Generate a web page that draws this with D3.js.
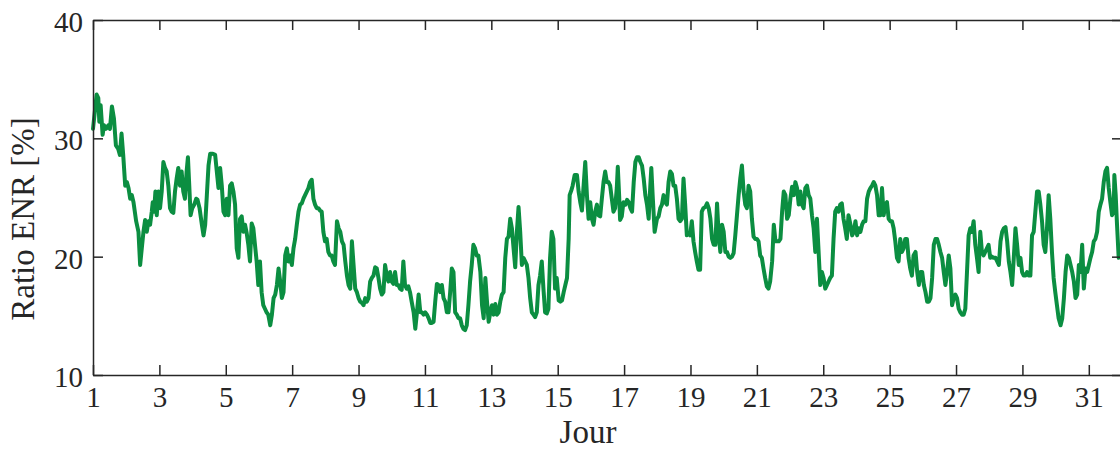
<!DOCTYPE html>
<html>
<head>
<meta charset="utf-8">
<script src="https://cdn.jsdelivr.net/npm/d3@7"></script>
<style>
  html, body { margin: 0; padding: 0; background: #fff; }
  svg { display: block; }
</style>
</head>
<body>
<svg id="chart" width="1120" height="450"></svg>
<script>
// ---- data (day of month, renewable ratio in %) ----
const ratioENR = [
 [1.00,30.8],[1.11,33.7],[1.16,33.4],[1.19,31.4],[1.23,32.8],[1.29,30.3],[1.33,31.1],[1.39,30.8],[1.46,31.1],[1.51,30.8],[1.57,32.7],[1.63,31.7],[1.69,29.4],[1.76,29.1],[1.81,28.6],[1.86,30.4],[1.91,28.6],[1.97,26.0],[2.02,26.3],[2.07,25.8],[2.12,24.9],[2.17,25.2],[2.22,24.6],[2.30,23.0],[2.37,22.1],[2.42,19.3],[2.47,20.7],[2.52,22.1],[2.57,23.1],[2.62,22.1],[2.67,23.0],[2.72,22.7],[2.77,23.8],[2.80,24.6],[2.84,23.8],[2.88,25.5],[2.92,23.5],[2.97,25.5],[3.02,24.1],[3.07,25.5],[3.12,28.0],[3.17,27.5],[3.22,27.2],[3.27,26.0],[3.32,24.1],[3.37,23.8],[3.42,23.7],[3.47,25.5],[3.52,26.6],[3.57,27.5],[3.62,26.0],[3.67,27.2],[3.72,25.5],[3.77,24.9],[3.82,27.2],[3.86,28.4],[3.90,26.0],[3.94,23.5],[3.99,24.1],[4.05,24.4],[4.11,24.9],[4.15,24.8],[4.21,24.1],[4.28,22.7],[4.33,21.8],[4.38,22.7],[4.43,25.2],[4.48,27.7],[4.53,28.7],[4.61,28.7],[4.68,28.6],[4.73,27.2],[4.78,25.8],[4.83,27.5],[4.88,26.0],[4.93,23.8],[4.98,23.5],[5.03,24.9],[5.08,23.5],[5.13,26.0],[5.18,26.2],[5.23,25.5],[5.28,24.4],[5.33,20.7],[5.38,19.9],
 [5.43,23.2],[5.48,23.4],[5.53,22.1],[5.58,22.7],[5.63,22.0],[5.68,21.0],[5.73,19.6],[5.78,22.8],[5.83,22.4],[5.88,21.0],[5.93,19.6],[5.98,17.6],[6.03,19.6],[6.08,17.0],[6.13,15.9],[6.18,15.6],[6.23,15.3],[6.28,15.1],[6.34,14.2],[6.39,15.1],[6.44,16.5],[6.49,16.8],[6.54,17.6],[6.59,19.0],[6.64,17.9],[6.69,16.5],[6.74,17.0],[6.79,20.1],[6.84,20.7],[6.89,19.6],[6.94,20.1],[6.99,19.3],[7.04,20.7],[7.09,21.5],[7.14,22.7],[7.19,23.8],[7.24,24.4],[7.29,24.5],[7.34,24.9],[7.39,25.2],[7.44,25.5],[7.49,25.8],[7.54,26.3],[7.59,26.5],[7.64,24.9],[7.69,24.4],[7.74,24.1],[7.79,24.1],[7.84,23.9],[7.89,23.8],[7.94,22.1],[7.99,21.3],[8.04,21.5],[8.09,20.4],[8.14,20.1],[8.19,20.1],[8.24,19.6],[8.29,19.3],[8.35,23.0],[8.40,22.4],[8.45,22.1],[8.50,21.3],[8.55,21.0],[8.60,19.6],[8.65,18.4],[8.70,17.6],[8.75,17.3],[8.80,21.3],[8.85,19.3],[8.90,17.3],[8.95,17.0],[9.00,16.5],[9.05,16.2],[9.10,16.1],[9.15,15.9],[9.20,16.5],[9.25,16.2],[9.30,16.5],[9.35,17.9],[9.40,18.2],[9.45,18.4],[9.50,19.1],[9.55,19.0],[9.60,18.2],[9.65,17.3],[9.70,16.8],
 [9.75,17.0],[9.80,19.3],[9.85,18.4],[9.90,17.9],[9.95,18.7],[10.00,17.9],[10.05,17.7],[10.10,18.7],[10.15,17.6],[10.20,17.6],[10.25,17.3],[10.30,17.2],[10.35,19.6],[10.40,17.6],[10.45,17.3],[10.50,17.5],[10.55,17.0],[10.60,16.2],[10.66,15.3],[10.71,13.9],[10.76,15.3],[10.81,16.8],[10.86,15.3],[10.91,15.3],[10.96,15.1],[11.01,15.3],[11.06,15.1],[11.11,14.8],[11.16,14.4],[11.21,14.4],[11.26,14.5],[11.31,16.2],[11.36,17.7],[11.41,17.6],[11.46,17.0],[11.51,17.6],[11.56,16.5],[11.61,16.2],[11.66,15.3],[11.71,15.3],[11.76,17.0],[11.81,19.0],[11.86,18.7],[11.91,15.3],[11.96,15.1],[12.01,14.8],[12.06,14.8],[12.11,14.2],[12.16,13.9],[12.21,13.8],[12.26,14.2],[12.31,15.9],[12.36,17.9],[12.41,19.3],[12.46,21.0],[12.51,20.7],[12.56,20.1],[12.61,20.1],[12.67,18.7],[12.72,15.9],[12.77,14.8],[12.82,18.2],[12.87,16.2],[12.92,14.5],[12.97,15.3],[13.02,15.9],[13.07,15.1],[13.12,16.0],[13.17,15.1],[13.22,15.3],[13.27,16.2],[13.32,16.8],[13.37,17.0],[13.42,19.9],[13.47,21.5],[13.52,21.7],[13.57,23.2],[13.62,22.4],[13.67,20.7],[13.72,19.1],[13.77,22.1],[13.82,24.2],[13.87,22.1],[13.92,19.3],[13.97,19.9],[14.02,19.6],
 [14.07,19.3],[14.12,18.2],[14.17,16.5],[14.22,15.3],[14.27,15.1],[14.32,14.9],[14.37,15.3],[14.42,17.6],[14.47,18.4],[14.52,19.6],[14.57,17.3],[14.62,15.3],[14.67,15.2],[14.72,15.6],[14.77,19.9],[14.82,22.1],[14.87,21.5],[14.92,17.3],[14.97,18.2],[15.03,16.3],[15.08,16.2],[15.13,16.3],[15.18,17.0],[15.23,17.6],[15.28,18.2],[15.33,21.5],[15.36,25.2],[15.41,25.6],[15.45,26.0],[15.51,26.9],[15.58,26.9],[15.63,25.5],[15.68,24.6],[15.73,23.9],[15.78,26.0],[15.83,28.0],[15.88,25.2],[15.93,23.2],[15.98,24.6],[16.03,23.2],[16.08,22.7],[16.13,23.8],[16.18,24.4],[16.23,23.5],[16.28,23.4],[16.33,24.9],[16.38,26.3],[16.43,27.2],[16.48,26.3],[16.53,26.3],[16.58,26.0],[16.63,24.9],[16.68,23.8],[16.73,24.1],[16.78,25.8],[16.81,27.6],[16.85,25.2],[16.88,23.1],[16.93,23.4],[16.98,24.6],[17.04,24.4],[17.09,24.8],[17.14,24.6],[17.19,24.1],[17.24,23.8],[17.29,26.3],[17.34,28.0],[17.39,28.4],[17.44,28.4],[17.49,28.0],[17.54,27.7],[17.59,26.6],[17.64,25.2],[17.69,24.4],[17.74,23.2],[17.79,26.0],[17.82,27.5],[17.86,25.2],[17.92,22.1],[17.99,23.2],[18.04,23.4],[18.09,24.1],[18.14,24.4],[18.19,25.2],[18.24,24.6],[18.29,24.4],[18.34,26.3],[18.39,27.2],[18.44,27.0],[18.49,26.0],
 [18.54,26.0],[18.59,24.9],[18.64,23.2],[18.69,23.0],[18.74,23.2],[18.79,26.6],[18.84,24.4],[18.89,21.8],[18.94,22.0],[18.99,21.8],[19.04,23.0],[19.09,21.3],[19.14,20.4],[19.19,19.6],[19.24,18.9],[19.29,18.9],[19.34,23.8],[19.39,24.1],[19.45,24.2],[19.50,24.5],[19.55,24.1],[19.60,23.2],[19.65,21.5],[19.70,21.0],[19.75,21.0],[19.80,24.5],[19.85,21.8],[19.90,20.4],[19.95,22.7],[20.00,22.1],[20.05,20.4],[20.10,20.4],[20.15,20.0],[20.20,19.9],[20.25,20.0],[20.30,20.3],[20.35,21.8],[20.40,23.5],[20.45,25.2],[20.50,26.6],[20.55,27.7],[20.60,25.5],[20.65,24.4],[20.70,24.1],[20.75,26.0],[20.80,25.5],[20.85,23.2],[20.90,21.7],[20.95,21.5],[21.00,21.5],[21.05,21.3],[21.10,20.1],[21.15,19.9],[21.20,19.0],[21.25,18.2],[21.30,17.5],[21.35,17.3],[21.40,17.9],[21.46,19.6],[21.51,22.7],[21.56,21.3],[21.61,21.3],[21.66,21.3],[21.71,21.5],[21.76,23.8],[21.81,25.5],[21.86,25.2],[21.91,23.2],[21.96,23.5],[22.01,24.9],[22.06,25.9],[22.11,25.2],[22.16,26.3],[22.21,25.8],[22.26,24.4],[22.31,25.5],[22.36,24.4],[22.41,24.1],[22.46,25.8],[22.51,26.0],[22.56,25.2],[22.61,24.9],[22.66,23.5],[22.71,22.4],[22.76,20.4],[22.81,23.2],
 [22.86,20.4],[22.91,17.6],[22.96,18.7],[23.01,18.2],[23.06,17.3],[23.11,17.6],[23.16,17.9],[23.21,18.2],[23.26,18.4],[23.31,21.5],[23.36,23.8],[23.41,24.1],[23.46,23.8],[23.51,24.4],[23.56,24.5],[23.61,23.2],[23.66,22.4],[23.71,21.5],[23.76,23.5],[23.82,22.7],[23.87,21.8],[23.92,22.1],[23.97,23.0],[24.02,21.8],[24.07,22.4],[24.12,22.1],[24.17,22.7],[24.22,23.0],[24.27,23.0],[24.32,24.9],[24.37,25.5],[24.42,25.8],[24.47,26.0],[24.52,26.3],[24.57,26.0],[24.62,25.2],[24.67,23.5],[24.72,23.5],[24.77,25.8],[24.82,23.5],[24.87,24.4],[24.92,24.6],[24.97,23.2],[25.02,23.0],[25.07,23.0],[25.12,22.4],[25.17,21.3],[25.22,19.9],[25.27,19.6],[25.32,21.5],[25.37,20.4],[25.42,20.7],[25.47,21.5],[25.52,21.5],[25.57,19.9],[25.62,19.0],[25.67,18.4],[25.72,20.1],[25.78,20.4],[25.83,18.7],[25.88,17.6],[25.93,18.7],[25.98,18.7],[26.03,17.6],[26.08,17.0],[26.13,16.2],[26.18,16.2],[26.23,16.5],[26.28,18.2],[26.33,21.0],[26.38,21.5],[26.43,21.5],[26.48,21.0],[26.53,20.4],[26.58,19.9],[26.63,18.7],[26.68,17.6],[26.73,18.7],[26.78,20.1],[26.83,19.0],[26.88,15.9],[26.93,16.5],[26.98,16.8],[27.03,16.5],[27.08,15.6],[27.13,15.3],[27.18,15.1],
 [27.23,15.1],[27.28,15.6],[27.33,18.7],[27.38,21.8],[27.43,22.4],[27.48,22.1],[27.53,23.0],[27.58,21.0],[27.63,19.9],[27.68,18.7],[27.73,22.1],[27.78,20.4],[27.83,20.1],[27.88,20.4],[27.93,20.7],[27.98,21.0],[28.03,19.9],[28.08,20.0],[28.13,19.9],[28.19,19.9],[28.24,19.6],[28.29,19.3],[28.34,21.3],[28.39,22.1],[28.44,22.4],[28.49,22.5],[28.54,21.3],[28.59,19.6],[28.64,18.7],[28.69,17.6],[28.74,19.9],[28.79,22.4],[28.84,21.0],[28.89,19.3],[28.94,19.9],[28.99,18.7],[29.04,18.4],[29.09,18.4],[29.14,18.7],[29.19,18.4],[29.24,18.4],[29.29,21.8],[29.34,22.1],[29.39,23.8],[29.44,25.5],[29.49,25.5],[29.54,24.4],[29.59,23.0],[29.64,21.0],[29.69,20.4],[29.74,22.4],[29.79,25.2],[29.84,23.2],[29.89,20.4],[29.94,18.2],[29.99,17.0],[30.04,15.9],[30.09,14.8],[30.15,14.2],[30.20,14.8],[30.25,16.5],[30.30,18.7],[30.35,20.1],[30.40,19.9],[30.45,19.3],[30.50,18.7],[30.55,17.9],[30.60,16.5],[30.65,16.8],[30.70,19.3],[30.75,18.7],[30.80,21.0],[30.85,17.3],[30.90,19.0],[30.95,18.7],[31.00,19.3],[31.05,19.9],[31.10,20.4],[31.15,21.3],[31.20,21.5],[31.25,22.1],[31.30,23.8],[31.35,24.4],[31.40,24.9],[31.45,26.3],[31.50,27.2],[31.55,27.5],[31.60,25.8],[31.65,24.6],[31.70,23.5],[31.75,23.8],[31.77,26.9],[31.81,25.2],[31.85,22.7],[31.90,19.9],[31.95,20.1]
];
const xTickDays = [1,3,5,7,9,11,13,15,17,19,21,23,25,27,29,31];
const yTickValues = [10,20,30,40];
const xDomain = [1, 32];
const yDomain = [10, 40];
const xLabel = "Jour";
const yLabel = "Ratio ENR [%]";

// ---- layout ----
const svg = d3.select("#chart");
const mLeft = 93, mRight = 1122, mTop = 20, mBottom = 375;
const axisColor = "#262626";
const lineColor = "#0b8e41";
const tickFont = "'Liberation Serif', 'Times New Roman', serif";

const x = d3.scaleLinear().domain(xDomain).range([mLeft, mRight]);
const y = d3.scaleLinear().domain(yDomain).range([mBottom, mTop]);

// data line
svg.append("path")
  .datum(ratioENR)
  .attr("fill", "none")
  .attr("stroke", lineColor)
  .attr("stroke-width", 4)
  .attr("stroke-linejoin", "round")
  .attr("stroke-linecap", "round")
  .attr("d", d3.line().x(d => x(d[0])).y(d => y(d[1])));

// axes (box with inward ticks)
const tickLen = 10;
function styleAxis(g) {
  g.selectAll("path.domain").attr("stroke", axisColor).attr("stroke-width", 1.5);
  g.selectAll(".tick line").attr("stroke", axisColor).attr("stroke-width", 1.5);
}
const xBottom = svg.append("g").attr("transform", `translate(0,${mBottom})`)
  .call(d3.axisBottom(x).tickValues(xTickDays).tickSizeInner(-tickLen).tickSizeOuter(0).tickPadding(11));
const xTopAxis = svg.append("g").attr("transform", `translate(0,${mTop})`)
  .call(d3.axisTop(x).tickValues(xTickDays).tickSizeInner(-tickLen).tickSizeOuter(0).tickFormat(""));
const yLeft = svg.append("g").attr("transform", `translate(${mLeft},0)`)
  .call(d3.axisLeft(y).tickValues(yTickValues).tickSizeInner(-tickLen).tickSizeOuter(0).tickPadding(10));
const yRightAxis = svg.append("g").attr("transform", `translate(${mRight},0)`)
  .call(d3.axisRight(y).tickValues(yTickValues).tickSizeInner(-tickLen).tickSizeOuter(0).tickFormat(""));
[xBottom, xTopAxis, yLeft, yRightAxis].forEach(styleAxis);

xBottom.selectAll(".tick text")
  .attr("fill", axisColor).style("font-family", tickFont).style("font-size", "29px");
yLeft.selectAll(".tick text")
  .attr("fill", axisColor).style("font-family", tickFont).style("font-size", "29px")
  .attr("dy", "0.4em");

// axis labels
svg.append("text")
  .attr("x", 588).attr("y", 443)
  .attr("text-anchor", "middle")
  .attr("fill", axisColor)
  .style("font-family", tickFont).style("font-size", "33px")
  .text(xLabel);

svg.append("text")
  .attr("transform", `translate(34,219) rotate(-90)`)
  .attr("text-anchor", "middle")
  .attr("fill", axisColor)
  .style("font-family", tickFont).style("font-size", "33px")
  .text(yLabel);
</script>
</body>
</html>
